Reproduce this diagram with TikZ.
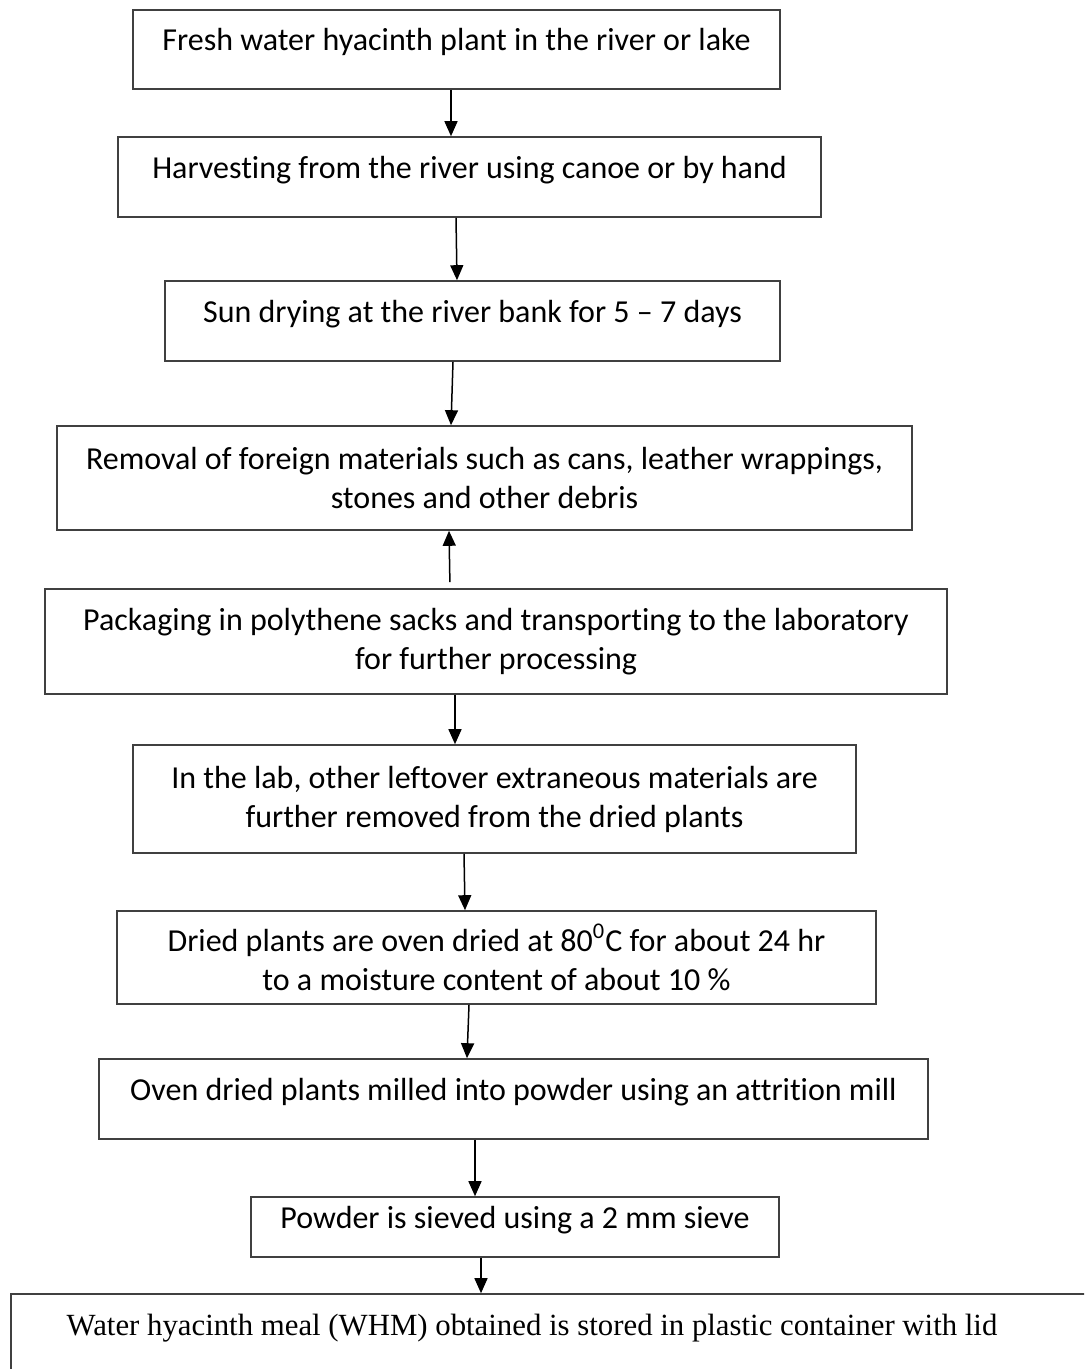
\documentclass[tikz,border=0pt]{standalone}
\usepackage{fontspec}
\setmainfont{Carlito}[Ligatures=NoCommon]
\newfontfamily\timesfont{Liberation Serif}
\usetikzlibrary{arrows.meta}

\begin{document}
\begin{tikzpicture}[x=0.5pt, y=-0.5pt,
  box/.style={draw=black!75, line width=0.8pt, align=center, inner sep=2pt, font=\fontsize{16}{19.5}\selectfont},
  onebox/.style={box, text height=10.75pt, text depth=9.25pt},
  storebox/.style={draw=black!75, line width=0.8pt, inner sep=2pt, font=\timesfont\fontsize{15.4}{18}\selectfont, text height=10.5pt, text depth=9.5pt},
  arr/.style={-{Triangle[length=7.5pt, width=6.5pt]}, line width=0.75pt}
]
\clip (0,0) rectangle (1084,1369);
\node[onebox, minimum width=323.5pt, minimum height=39.5pt] (fresh)   at (456.5,49.5) {Fresh water hyacinth plant in the river or lake};
\node[onebox, minimum width=351.5pt, minimum height=40pt]   (harvest) at (469.5,177)  {Harvesting from the river using canoe or by hand};
\node[onebox, minimum width=307.5pt, minimum height=40pt]   (sundry)  at (472.5,321)  {Sun drying at the river bank for 5 -- 7 days};
\node[box, minimum width=427.5pt, minimum height=52pt]      (removal) at (484.5,478)  {Removal of foreign materials such as cans, leather wrappings,\\ stones and other debris};
\node[box, minimum width=451pt, minimum height=52.5pt]      (packing) at (496,641.5)  {Packaging in polythene sacks and transporting to the laboratory\\ for further processing};
\node[box, minimum width=361.5pt, minimum height=54pt]      (labclean) at (494.5,799) {In the lab, other leftover extraneous materials are\\ further removed from the dried plants};
\node[box, minimum width=379.5pt, minimum height=46.5pt]    (ovendry) at (496.5,957.5) {Dried plants are oven dried at 80\textsuperscript{0}C for about 24 hr\\ to a moisture content of about 10 \%};
\node[onebox, minimum width=414.5pt, minimum height=40pt]   (milling) at (513.5,1099) {Oven dried plants milled into powder using an attrition mill};
\node[onebox, minimum width=264pt, minimum height=30pt]     (sieving) at (515,1227)   {Powder is sieved using a 2 mm sieve};
\node[storebox, minimum width=544.5pt, minimum height=40pt] (storage) at (555.5,1334) {Water hyacinth meal (WHM) obtained is stored in plastic container with lid\kern23.5pt};

\draw[arr] ([xshift=-2.75pt]fresh.south) -- ([xshift=-9.25pt]harvest.north);
\draw[arr] ([xshift=-6.75pt]harvest.south) -- ([xshift=-7.75pt]sundry.north);
\draw[arr] ([xshift=-9.75pt]sundry.south) -- ([xshift=-16.75pt]removal.north);
\draw[arr, shorten <=3pt] ([xshift=-23pt]packing.north) -- ([xshift=-17.75pt]removal.south);
\draw[arr] ([xshift=-20.5pt]packing.south) -- ([xshift=-19.75pt]labclean.north);
\draw[arr] ([xshift=-15.25pt]labclean.south) -- ([xshift=-15.75pt]ovendry.north);
\draw[arr] ([xshift=-13.75pt]ovendry.south) -- ([xshift=-23.25pt]milling.north);
\draw[arr] ([xshift=-19.25pt]milling.south) -- ([xshift=-20pt]sieving.north);
\draw[arr] ([xshift=-17pt]sieving.south) -- ([xshift=-37.25pt]storage.north);
\end{tikzpicture}
\end{document}
